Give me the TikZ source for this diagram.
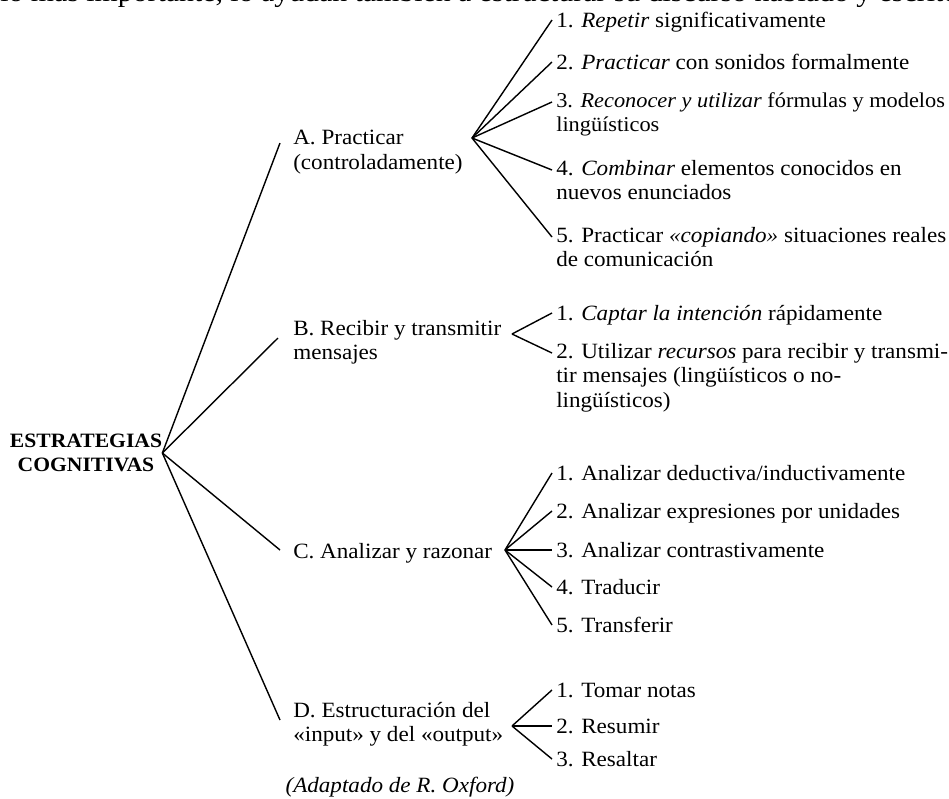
\documentclass[tikz,border=0pt]{standalone}
\usepackage{fontspec}
\setmainfont{Liberation Serif}[FakeStretch=1.06]
\usetikzlibrary{positioning, calc}

\newcommand{\leaffont}{\fontsize{15.5}{17.4}\selectfont}

\begin{document}
\begin{tikzpicture}[
    x=0.025cm, y=-0.025cm,
    txt/.style={inner sep=0pt, anchor=north west, align=left, font=\leaffont, execute at begin node=\strut},
    cat/.style={txt},
    leaf/.style={txt},
    branch/.style={line width=1pt}
]
\useasboundingbox (0,0) rectangle (949,798);

% running text of the page, cut at the top
\node[anchor=base west, inner sep=0pt, font=\fontsize{20}{22}\selectfont] (running) at (0,1) {lo más importante, lo ayudan también a estructurar su discurso hablado y escrito};

\node[font=\fontsize{14.5}{17}\selectfont\bfseries, align=center, inner sep=0pt] (root) at (86,453) {ESTRATEGIAS\\COGNITIVAS};

\node[cat] (catA) at (293,130) {A. Practicar\\(controladamente)};
\node[cat] (catB) at (293,320) {B. Recibir y transmitir\\mensajes};
\node[cat] (catC) at (293,541) {C. Analizar y razonar};
\node[cat] (catD) at (293,702) {D. Estructuración del\\«input» y del «output»};

\coordinate (hubA) at (472,138);
\coordinate (hubB) at (512,334);
\coordinate (hubC) at (505,550);
\coordinate (hubD) at (512,726);

\node[leaf] (A1) at (556,10) {1. \textit{Repetir} significativamente};
\node[leaf] (A2) at (556,52) {2. \textit{Practicar} con sonidos formalmente};
\node[leaf, font=\fontsize{15}{17.4}\selectfont] (A3) at (556,92) {3. \textit{Reconocer y utilizar} fórmulas y modelos\\lingüísticos};
\node[leaf] (A4) at (556,160) {4. \textit{Combinar} elementos conocidos en\\nuevos enunciados};
\node[leaf] (A5) at (556,227) {5. Practicar \textit{«copiando»} situaciones reales\\de comunicación};

\node[leaf] (B1) at (556,303) {1. \textit{Captar la intención} rápidamente};
\node[leaf] (B2) at (556,343) {2. Utilizar \textit{recursos} para recibir y transmi-\\tir mensajes (lingüísticos o no-\\lingüísticos)};

\node[leaf] (C1) at (556,463) {1. Analizar deductiva/inductivamente};
\node[leaf] (C2) at (556,501) {2. Analizar expresiones por unidades};
\node[leaf] (C3) at (556,540) {3. Analizar contrastivamente};
\node[leaf] (C4) at (556,577) {4. Traducir};
\node[leaf] (C5) at (556,615) {5. Transferir};

\node[leaf] (D1) at (556,680) {1. Tomar notas};
\node[leaf] (D2) at (556,716) {2. Resumir};
\node[leaf] (D3) at (556,749) {3. Resaltar};

\node[font=\leaffont\itshape, inner sep=0pt] (source) at (400,787) {(Adaptado de R. Oxford)};

% root to categories
\draw[branch] (root.east) -- ([shift={(-13,13)}]catA.north west);
\draw[branch] (root.east) -- ([shift={(-15,18)}]catB.north west);
\draw[branch] (root.east) -- ([shift={(-13,9)}]catC.north west);
\draw[branch] (root.east) -- ([shift={(-13,18)}]catD.north west);

% categories to items
\draw[branch] (hubA) -- ([shift={(-4,10)}]A1.north west);
\draw[branch] (hubA) -- ([shift={(-4,10)}]A2.north west);
\draw[branch] (hubA) -- ([shift={(-4,10)}]A3.north west);
\draw[branch] (hubA) -- ([shift={(-4,10)}]A4.north west);
\draw[branch] (hubA) -- ([shift={(-4,10)}]A5.north west);

\draw[branch] (hubB) -- ([shift={(-4,10)}]B1.north west);
\draw[branch] (hubB) -- ([shift={(-4,10)}]B2.north west);

\draw[branch] (hubC) -- ([shift={(-4,10)}]C1.north west);
\draw[branch] (hubC) -- ([shift={(-4,10)}]C2.north west);
\draw[branch] (hubC) -- ([shift={(-4,10)}]C3.north west);
\draw[branch] (hubC) -- ([shift={(-4,10)}]C4.north west);
\draw[branch] (hubC) -- ([shift={(-4,10)}]C5.north west);

\draw[branch] (hubD) -- ([shift={(-4,10)}]D1.north west);
\draw[branch] (hubD) -- ([shift={(-4,10)}]D2.north west);
\draw[branch] (hubD) -- ([shift={(-4,10)}]D3.north west);

\end{tikzpicture}
\end{document}
